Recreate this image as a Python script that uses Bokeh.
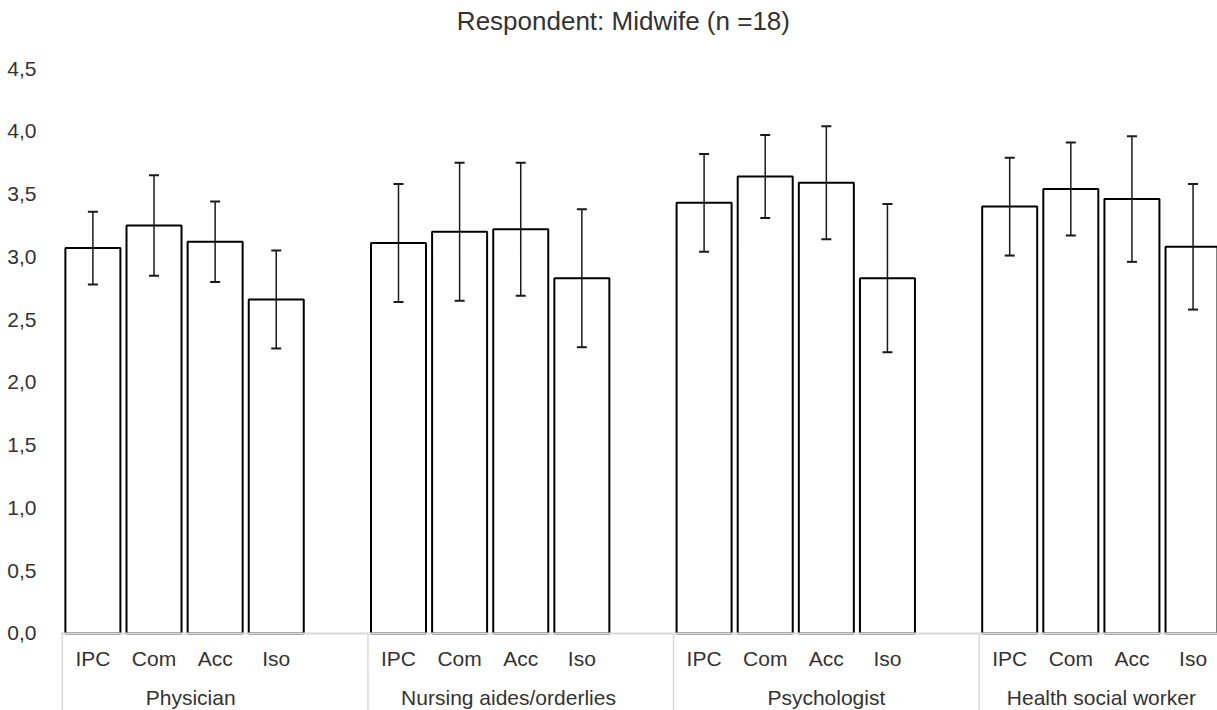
from bokeh.plotting import figure
from bokeh.models import Range1d, FixedTicker, CustomJSTickFormatter, ColumnDataSource, Whisker, TeeHead
from bokeh.core.properties import value
from bokeh.embed import file_html
from bokeh.resources import INLINE

# ---------------- data ----------------
title_text = "Respondent: Midwife (n =18)"
groups = ["Physician", "Nursing aides/orderlies", "Psychologist", "Health social worker"]
categories = ["IPC", "Com", "Acc", "Iso"]

physician_mean = [3.07, 3.25, 3.12, 2.66]
nursing_mean = [3.11, 3.20, 3.22, 2.83]
psychologist_mean = [3.43, 3.64, 3.59, 2.83]
social_worker_mean = [3.40, 3.54, 3.46, 3.08]

physician_err = [0.29, 0.40, 0.32, 0.39]
nursing_err = [0.47, 0.55, 0.53, 0.55]
psychologist_err = [0.39, 0.33, 0.45, 0.59]
social_worker_err = [0.39, 0.37, 0.50, 0.50]

y_ticks = [0.0, 0.5, 1.0, 1.5, 2.0, 2.5, 3.0, 3.5, 4.0, 4.5]

# ---------------- layout ----------------
FONT = "Liberation Sans"
TXT = "#333333"
W, H = 1217, 710
SLOTS = 5                 # 4 bars + one empty slot per group
X_START, X_END = -0.03, 18.9
Y_BOTTOM, Y_TOP = -0.614, 5.042
CAT_Y, GRP_Y, TITLE_Y = -0.20, -0.51, 4.875
TITLE_X = 9.18
GROUP_LABEL_X = [2.1, 7.3, 12.5, 17.0]

means = [physician_mean, nursing_mean, psychologist_mean, social_worker_mean]
errs = [physician_err, nursing_err, psychologist_err, social_worker_err]

xs, tops, ups, los, labs = [], [], [], [], []
for g, (m, e) in enumerate(zip(means, errs)):
    for j, c in enumerate(categories):
        xs.append(g * SLOTS + j + 0.5)
        tops.append(m[j])
        ups.append(m[j] + e[j])
        los.append(m[j] - e[j])
        labs.append(c)
src = ColumnDataSource(dict(x=xs, top=tops, upper=ups, lower=los, label=labs))

p = figure(width=W, height=H, x_range=Range1d(X_START, X_END), y_range=Range1d(Y_BOTTOM, Y_TOP),
           output_backend="svg", toolbar_location=None, x_axis_location=None,
           min_border_left=60, min_border_right=0, min_border_top=0, min_border_bottom=0)
p.outline_line_color = None
p.xgrid.visible = False
p.ygrid.visible = False
p.background_fill_color = "white"

ya = p.yaxis[0]
ya.ticker = FixedTicker(ticks=y_ticks)
ya.formatter = CustomJSTickFormatter(code="return tick.toFixed(1).replace('.', ',');")
ya.axis_line_color = None
ya.major_tick_line_color = None
ya.minor_tick_line_color = None
ya.major_label_standoff = 18
ya.major_label_text_font = FONT
ya.major_label_text_font_size = "21px"
ya.major_label_text_color = TXT

p.vbar(x="x", top="top", bottom=0, width=0.9, fill_color="white", line_color="black",
       line_width=2, source=src)

# category axis line and group separators
p.segment(x0=[X_START], y0=[0], x1=[X_END], y1=[0], line_color="#d9d9d9", line_width=2)
seps = [g * SLOTS for g in range(len(groups))]
p.segment(x0=seps, y0=[0] * len(seps), x1=seps, y1=[Y_BOTTOM] * len(seps),
          line_color="#d9d9d9", line_width=1.5)

p.add_layout(Whisker(source=src, base="x", upper="upper", lower="lower", level="overlay",
                     line_color="#1a1a1a", line_width=1.5,
                     upper_head=TeeHead(size=10, line_color="#1a1a1a", line_width=2),
                     lower_head=TeeHead(size=10, line_color="#1a1a1a", line_width=2)))

p.text(x="x", y=CAT_Y, text="label", source=src, text_align="center", text_baseline="middle",
       text_font=value(FONT), text_font_size="21px", text_color=TXT)

p.text(x=GROUP_LABEL_X, y=[GRP_Y] * len(groups), text=groups, text_align="center",
       text_baseline="middle", text_font=value(FONT), text_font_size="21px", text_color=TXT)

p.text(x=[TITLE_X], y=[TITLE_Y], text=[title_text], text_align="center", text_baseline="middle",
       text_font=value(FONT), text_font_size="26px", text_color=TXT)

open("out.html", "w").write(file_html(p, INLINE))
